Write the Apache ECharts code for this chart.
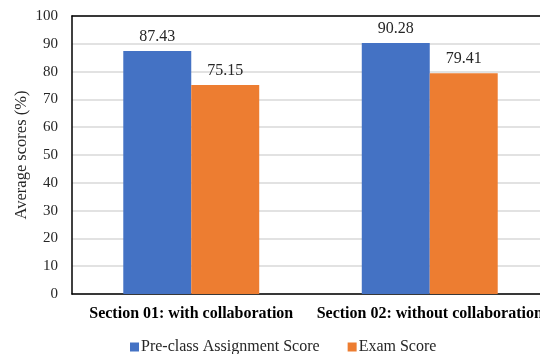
<!DOCTYPE html>
<html>
<head>
<meta charset="utf-8">
<script src="https://cdn.jsdelivr.net/npm/echarts@6/dist/echarts.min.js"></script>
<style>
  html, body { margin: 0; padding: 0; background: #fff; }
  #chart { width: 540px; height: 354px; }
</style>
</head>
<body>
<div id="chart"></div>
<script>
// Average scores per section
const categories = ['Section 01: with collaboration', 'Section 02: without collaboration'];
const seriesNames = ['Pre-class Assignment Score', 'Exam Score'];
const preClassScores = [87.43, 90.28];
const examScores = [75.15, 79.41];
const yTicks = { min: 0, max: 100, interval: 10 };

const serif = '"Liberation Serif", "DejaVu Serif", serif';
const chart = echarts.init(document.getElementById('chart'));

const barLabel = {
  show: true,
  position: 'top',
  distance: 6,
  fontFamily: serif,
  fontSize: 16,
  color: '#262626',
  formatter: p => p.value.toFixed(2)
};

chart.setOption({
  animation: false,
  textStyle: { fontFamily: serif },
  // plot area runs slightly past the right edge of the canvas
  grid: { left: 72, width: 477, top: 16, bottom: 60, outerBoundsMode: 'none' },
  legend: {
    data: seriesNames,
    top: 334,
    left: 125,
    icon: 'rect',
    itemWidth: 9,
    itemHeight: 9,
    itemGap: 28,
    textStyle: { fontFamily: serif, fontSize: 16, color: '#262626', padding: [0, 0, 0, -3] }
  },
  xAxis: [
    {
      type: 'category',
      data: categories,
      axisLine: { lineStyle: { color: '#000', width: 1.5 } },
      axisTick: { show: false },
      axisLabel: {
        fontFamily: serif,
        fontSize: 16,
        fontWeight: 'bold',
        color: '#000',
        margin: 12,
        interval: 0
      }
    },
    {
      // frame line along the top of the plot
      type: 'category',
      position: 'top',
      data: categories,
      axisLine: { show: true, lineStyle: { color: '#000', width: 1.5 } },
      axisTick: { show: false },
      axisLabel: { show: false }
    }
  ],
  yAxis: {
    type: 'value',
    min: yTicks.min,
    max: yTicks.max,
    interval: yTicks.interval,
    name: 'Average scores (%)',
    nameLocation: 'middle',
    nameGap: 42,
    nameRotate: 90,
    nameMoveOverlap: false,
    nameTextStyle: { fontFamily: serif, fontSize: 16.5, color: '#262626' },
    axisLine: { show: true, lineStyle: { color: '#000', width: 1.5 } },
    axisTick: { show: false },
    axisLabel: { fontFamily: serif, fontSize: 15, color: '#262626', margin: 14 },
    splitLine: { show: true, lineStyle: { color: '#d9d9d9', width: 1.5 } }
  },
  series: [
    {
      name: seriesNames[0],
      type: 'bar',
      data: preClassScores,
      barWidth: '28.5%',
      barGap: '0%',
      itemStyle: { color: '#4472C4' },
      label: barLabel
    },
    {
      name: seriesNames[1],
      type: 'bar',
      data: examScores,
      barWidth: '28.5%',
      itemStyle: { color: '#ED7D31' },
      label: barLabel
    }
  ]
});
</script>
</body>
</html>
